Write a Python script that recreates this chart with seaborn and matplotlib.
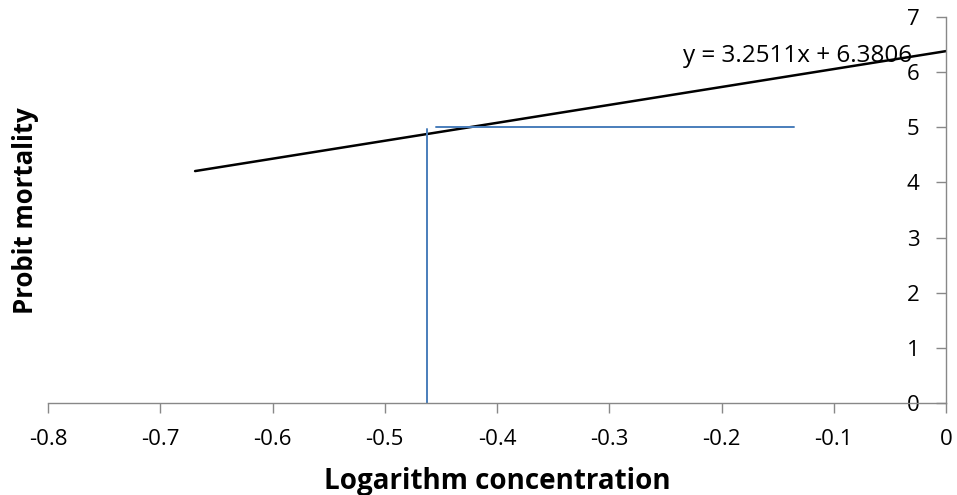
import matplotlib
matplotlib.use("Agg")
import matplotlib.pyplot as plt
import seaborn as sns
import pandas as pd

# Fitted probit regression line
slope = 3.2511
intercept = 6.3806
fit_x = [-0.669, 0.0]

guide_v_x = [-0.4624, -0.4624]
guide_v_y = [0.0, 4.96]
guide_h_x = [-0.4543, -0.135]
guide_h_y = [5.0, 5.0]

x_ticks = [-0.8, -0.7, -0.6, -0.5, -0.4, -0.3, -0.2, -0.1, 0]
x_tick_labels = ["-0.8", "-0.7", "-0.6", "-0.5", "-0.4", "-0.3", "-0.2", "-0.1", "0"]
y_ticks = [0, 1, 2, 3, 4, 5, 6, 7]

sns.set_style("white")
plt.rcParams["font.family"] = ["Open Sans", "DejaVu Sans"]
plt.rcParams["text.color"] = "black"
plt.rcParams["axes.labelcolor"] = "black"

fig = plt.figure(figsize=(9.57, 4.95), dpi=100)
ax = fig.add_axes([0.0502, 0.1859, 0.9383, 0.7798])

fit_df = pd.DataFrame({"x": fit_x, "y": [slope * v + intercept for v in fit_x]})
sns.lineplot(data=fit_df, x="x", y="y", ax=ax, color="black", linewidth=1.8,
             estimator=None, sort=False)

blue = "#4A7EBB"
sns.lineplot(x=guide_v_x, y=guide_v_y, ax=ax, color=blue, linewidth=1.4,
             estimator=None, sort=False)
sns.lineplot(x=guide_h_x, y=guide_h_y, ax=ax, color=blue, linewidth=1.4,
             estimator=None, sort=False)

ax.set_xlim(-0.8, 0)
ax.set_ylim(0, 7)

# Vertical axis sits at x = 0 on the right edge, ticks pointing left
ax.spines["left"].set_position(("data", 0))
ax.spines["right"].set_visible(False)
ax.spines["top"].set_visible(False)
for s in ("left", "bottom"):
    ax.spines[s].set_color("#888888")
    ax.spines[s].set_linewidth(1.0)

ax.set_xticks(x_ticks)
ax.set_xticklabels(x_tick_labels)
ax.set_yticks(y_ticks)
ax.tick_params(axis="both", which="major", direction="out", length=7, width=1.0,
               color="#888888", labelsize=16, labelcolor="black",
               bottom=True, left=True)
ax.tick_params(axis="x", pad=12)
ax.tick_params(axis="y", pad=12)

ax.set_xlabel("Logarithm concentration", fontsize=20, fontweight="bold", labelpad=12)
ax.set_ylabel("")
fig.text(0.027, 0.574, "Probit mortality", rotation=90, fontsize=18.5,
         fontweight="bold", ha="center", va="center")

ax.text(-0.2343, 6.30, f"y = {slope}x + {intercept}", fontsize=17.5, ha="left",
        va="center", color="black")

ax.grid(False)
fig.savefig("out.png", dpi=100)
